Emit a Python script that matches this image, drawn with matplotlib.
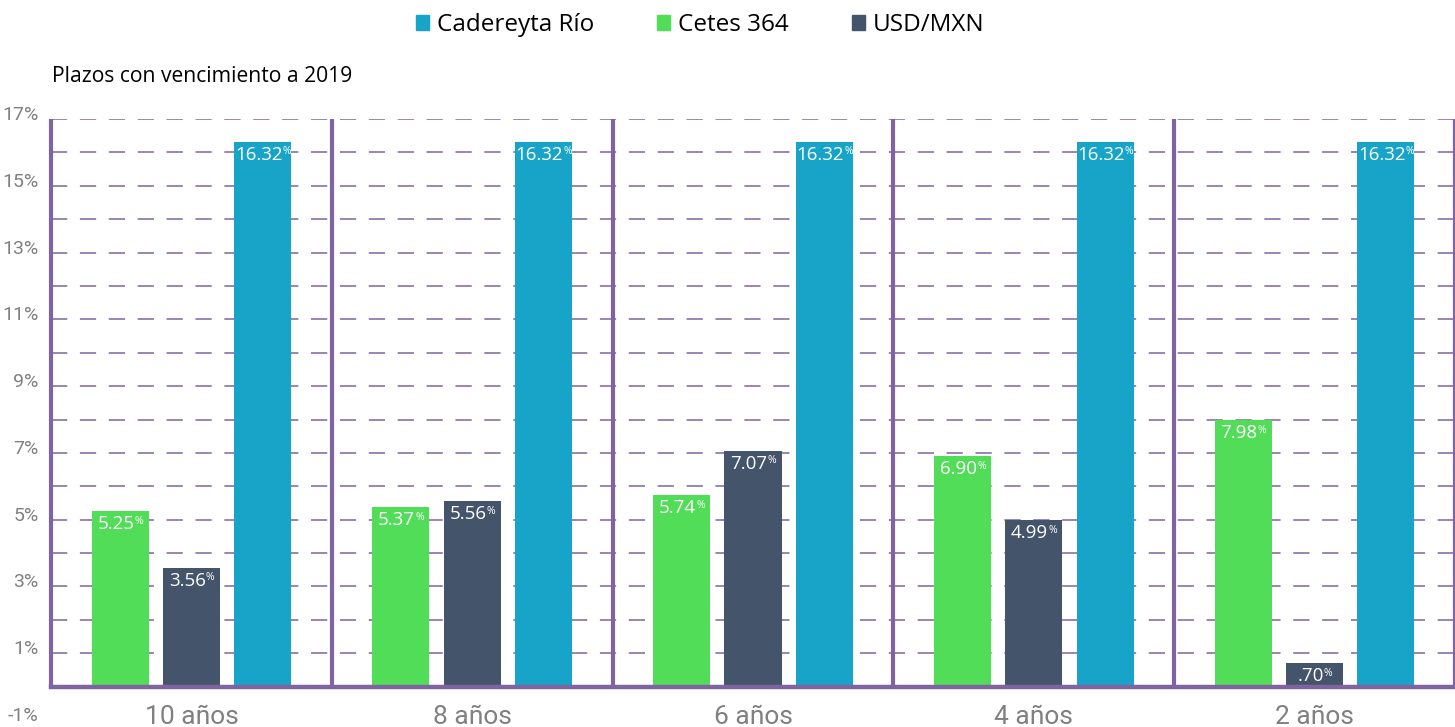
import matplotlib
matplotlib.use("Agg")
import matplotlib.pyplot as plt
import matplotlib.transforms as mtransforms
from matplotlib.patches import Rectangle

categories = ["10 años", "8 años", "6 años", "4 años", "2 años"]
cetes = [5.25, 5.37, 5.74, 6.90, 7.98]
usd = [3.56, 5.56, 7.07, 4.99, 0.70]
cadereyta = [16.32, 16.32, 16.32, 16.32, 16.32]
cetes_labels = ["5.25", "5.37", "5.74", "6.90", "7.98"]
usd_labels = ["3.56", "5.56", "7.07", "4.99", ".70"]
cad_labels = ["16.32"] * 5
ytick_vals = [-1, 1, 3, 5, 7, 9, 11, 13, 15, 17]
title = "Plazos con vencimiento a 2019"

C_BLUE = "#18A4C8"
C_GREEN = "#52DD58"
C_DARK = "#44546A"
C_PURPLE = "#8064A2"
C_GRAY = "#808080"

plt.rcParams["font.family"] = ["Open Sans", "DejaVu Sans"]

fig = plt.figure(figsize=(14.55, 7.27), dpi=100)
ax = fig.add_axes([51/1455, 1-720/727, 1-51/1455, (720-119)/727])
ax.set_xlim(-0.5, 4.5)
ax.set_ylim(-1, 17)
for s in ax.spines.values():
    s.set_visible(False)

# dashed grid lines
for v in range(1, 18):
    ax.axhline(v, color=C_PURPLE, lw=1.3, ls=(0, (9, 7)), alpha=0.85, zorder=0)

w = 0.203
off = 0.254
x = list(range(len(categories)))
ax.bar([i - off for i in x], cetes, width=w, color=C_GREEN, zorder=2)
ax.bar(x, usd, width=w, color=C_DARK, zorder=2)
ax.bar([i + off for i in x], cadereyta, width=w, color=C_BLUE, zorder=2)

def lab(xs, ys, texts):
    for xi, yi, t in zip(xs, ys, texts):
        main = ax.annotate(t, (xi, yi), xytext=(-3.0, -3.0),
                           textcoords="offset points", ha="center", va="top",
                           color="white", fontsize=13.5, zorder=3)
        ax.annotate("%", xy=(1, 0.97), xycoords=main, xytext=(0.2, 0),
                    textcoords="offset points", ha="left", va="top",
                    color="white", fontsize=7.5, zorder=3)

lab([i - off for i in x], cetes, cetes_labels)
lab(x, usd, usd_labels)
lab([i + off for i in x], cadereyta, cad_labels)

# separators and baseline
for s in [-0.5, 0.5, 1.5, 2.5, 3.5, 4.5]:
    ax.plot([s, s], [0, 17], color=C_PURPLE, lw=3, zorder=4, solid_capstyle="butt", clip_on=False)
ax.plot([-0.5, 4.5], [0, 0], color=C_PURPLE, lw=3.2, zorder=4, clip_on=False)

ax.set_xticks([])
ax.set_yticks(ytick_vals)
ax.set_yticklabels([f"{v}%" for v in ytick_vals])
ax.tick_params(axis="y", length=0, pad=9, labelsize=14, labelcolor=C_GRAY)
shift = mtransforms.ScaledTranslation(0, 6/100, fig.dpi_scale_trans)
for t in ax.get_yticklabels():
    t.set_fontfamily("Roboto")
    t.set_fontsize(14)
    t.set_transform(t.get_transform() + shift)

for i, c in enumerate(categories):
    ax.text(i, -0.9, c, ha="center", va="center", family="Roboto", fontsize=19, color=C_GRAY)

fig.text(52/1455, 1-76/727, title, ha="left", va="center", fontsize=15.2, color="black")

handles = [Rectangle((0, 0), 1, 1, color=C_BLUE), Rectangle((0, 0), 1, 1, color=C_GREEN),
           Rectangle((0, 0), 1, 1, color=C_DARK)]
fig.legend(handles, ["Cadereyta Río", "Cetes 364", "USD/MXN"], loc="center",
           bbox_to_anchor=(700/1455, 1-25/727), ncol=3, frameon=False, fontsize=17.5,
           handlelength=0.55, handleheight=0.55, handletextpad=0.3, columnspacing=2.6)

fig.savefig("out.png", dpi=100)
